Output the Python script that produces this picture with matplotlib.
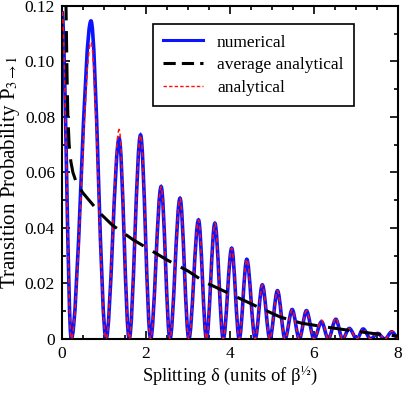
import matplotlib
matplotlib.use("Agg")
import matplotlib.pyplot as plt
from matplotlib.path import Path
from matplotlib.patches import PathPatch
from matplotlib.lines import Line2D
from matplotlib.ticker import MultipleLocator, FixedFormatter, FixedLocator

plt.rcParams["font.family"] = ["Liberation Serif", "DejaVu Serif"]
plt.rcParams["mathtext.fontset"] = "stix"

# peak positions / heights and zero crossings
peak_x = [0.0, 0.69, 1.36, 1.87, 2.36, 2.81, 3.25, 3.64, 4.04, 4.40,
          4.77, 5.13, 5.48, 5.82, 6.18, 6.52, 6.84, 7.17, 7.51, 7.85]
trough_x = [0.22, 1.05, 1.60, 2.11, 2.57, 3.02, 3.44, 3.84, 4.22, 4.60,
            4.95, 5.31, 5.65, 6.00, 6.34, 6.68, 7.02, 7.35, 7.69, 8.02]
numerical_peaks = [0.118, 0.1146, 0.0723, 0.0735, 0.0549, 0.0507, 0.0429,
                   0.0417, 0.0327, 0.0287, 0.0195, 0.0174, 0.0106, 0.0102,
                   0.0062, 0.0071, 0.0038, 0.0036, 0.0020, 0.0026]
analytical_peaks = [0.118, 0.107, 0.0755, 0.0735, 0.0549, 0.0507, 0.0429,
                    0.0417, 0.0327, 0.0287, 0.0195, 0.0174, 0.0106, 0.0102,
                    0.0068, 0.0076, 0.0038, 0.0036, 0.0022, 0.0028]

# average analytical curve
avg_x = [0.09, 0.10, 0.12, 0.14, 0.17, 0.21, 0.26, 0.35, 0.5, 0.7, 0.9,
         1.2, 1.7, 2.0, 2.5, 3.0, 3.4, 4.05, 4.6, 5.2, 5.7, 6.2, 6.8,
         7.4, 8.0]
avg_y = [0.125, 0.115, 0.095, 0.080, 0.070, 0.064, 0.060, 0.056, 0.0526,
         0.049, 0.0454, 0.041, 0.0357, 0.0330, 0.0285, 0.0245, 0.0205,
         0.0159, 0.0120, 0.0079, 0.0057, 0.0045, 0.0032, 0.0020, 0.0010]

x_ticks = [0, 2, 4, 6, 8]
y_ticks = [0, 0.02, 0.04, 0.06, 0.08, 0.10, 0.12]
y_tick_labels = ["0", "0.02", "0.04", "0.06", "0.08", "0.10", "0.12"]


def oscillation_path(peaks_x, peaks_y, troughs):
    # alternate peak / zero and join with smooth bezier segments
    pts = []
    for px, py, tx in zip(peaks_x, peaks_y, troughs):
        pts.append((px, py))
        pts.append((tx, 0.0))
    verts = [pts[0]]
    codes = [Path.MOVETO]
    for (x0, y0), (x1, y1) in zip(pts[:-1], pts[1:]):
        dx = x1 - x0
        verts += [(x0 + dx / 3, y0), (x1 - dx / 3, y1), (x1, y1)]
        codes += [Path.CURVE4] * 3
    return Path(verts, codes)


fig = plt.figure(figsize=(4.09, 3.94), dpi=100)
ax = fig.add_axes([0.1516, 0.1396, 0.8215, 0.8452])

blue = PathPatch(oscillation_path(peak_x, numerical_peaks, trough_x),
                 fill=False, edgecolor="#0a14ff", lw=2.6, zorder=2)
ax.add_patch(blue)
red = PathPatch(oscillation_path(peak_x, analytical_peaks, trough_x),
                fill=False, edgecolor="#ff1010", lw=1.1, linestyle=(0, (3, 2)),
                zorder=3)
ax.add_patch(red)
ax.plot(avg_x, avg_y, color="black", lw=2.2, dashes=(7, 3.5), zorder=4)

ax.set_xlim(0, 8)
ax.set_ylim(0, 0.12)
ax.xaxis.set_major_locator(FixedLocator(x_ticks))
ax.xaxis.set_minor_locator(MultipleLocator(0.5))
ax.yaxis.set_major_locator(FixedLocator(y_ticks))
ax.yaxis.set_major_formatter(FixedFormatter(y_tick_labels))
ax.yaxis.set_minor_locator(MultipleLocator(0.01))
ax.tick_params(which="both", direction="in", top=True, right=True,
               labelsize=12.5, width=1.2)
ax.tick_params(which="major", length=6, pad=5)
ax.tick_params(which="minor", length=3)
for s in ax.spines.values():
    s.set_linewidth(1.5)

ax.set_xlabel("Splitting δ (units of β$^{½}$)", fontsize=13.3, labelpad=2)
ax.set_ylabel("Transition Probability P$_{3\\rightarrow1}$", fontsize=15,
              labelpad=2)

handles = [
    Line2D([], [], color="#0a14ff", lw=2.2),
    Line2D([], [], color="black", lw=2.2, dashes=(4, 2)),
    Line2D([], [], color="#ff1010", lw=1.0, dashes=(2.5, 1.5)),
]
leg = ax.legend(handles, ["numerical", "average analytical", "analytical"],
                loc="upper right", bbox_to_anchor=(0.869, 0.946),
                borderaxespad=0, fancybox=False, framealpha=1,
                edgecolor="black", fontsize=12.5, handlelength=2.3,
                handletextpad=0.8, labelspacing=0.38, borderpad=0.6)
leg.get_frame().set_linewidth(1.2)

fig.savefig("out.png", dpi=100)
